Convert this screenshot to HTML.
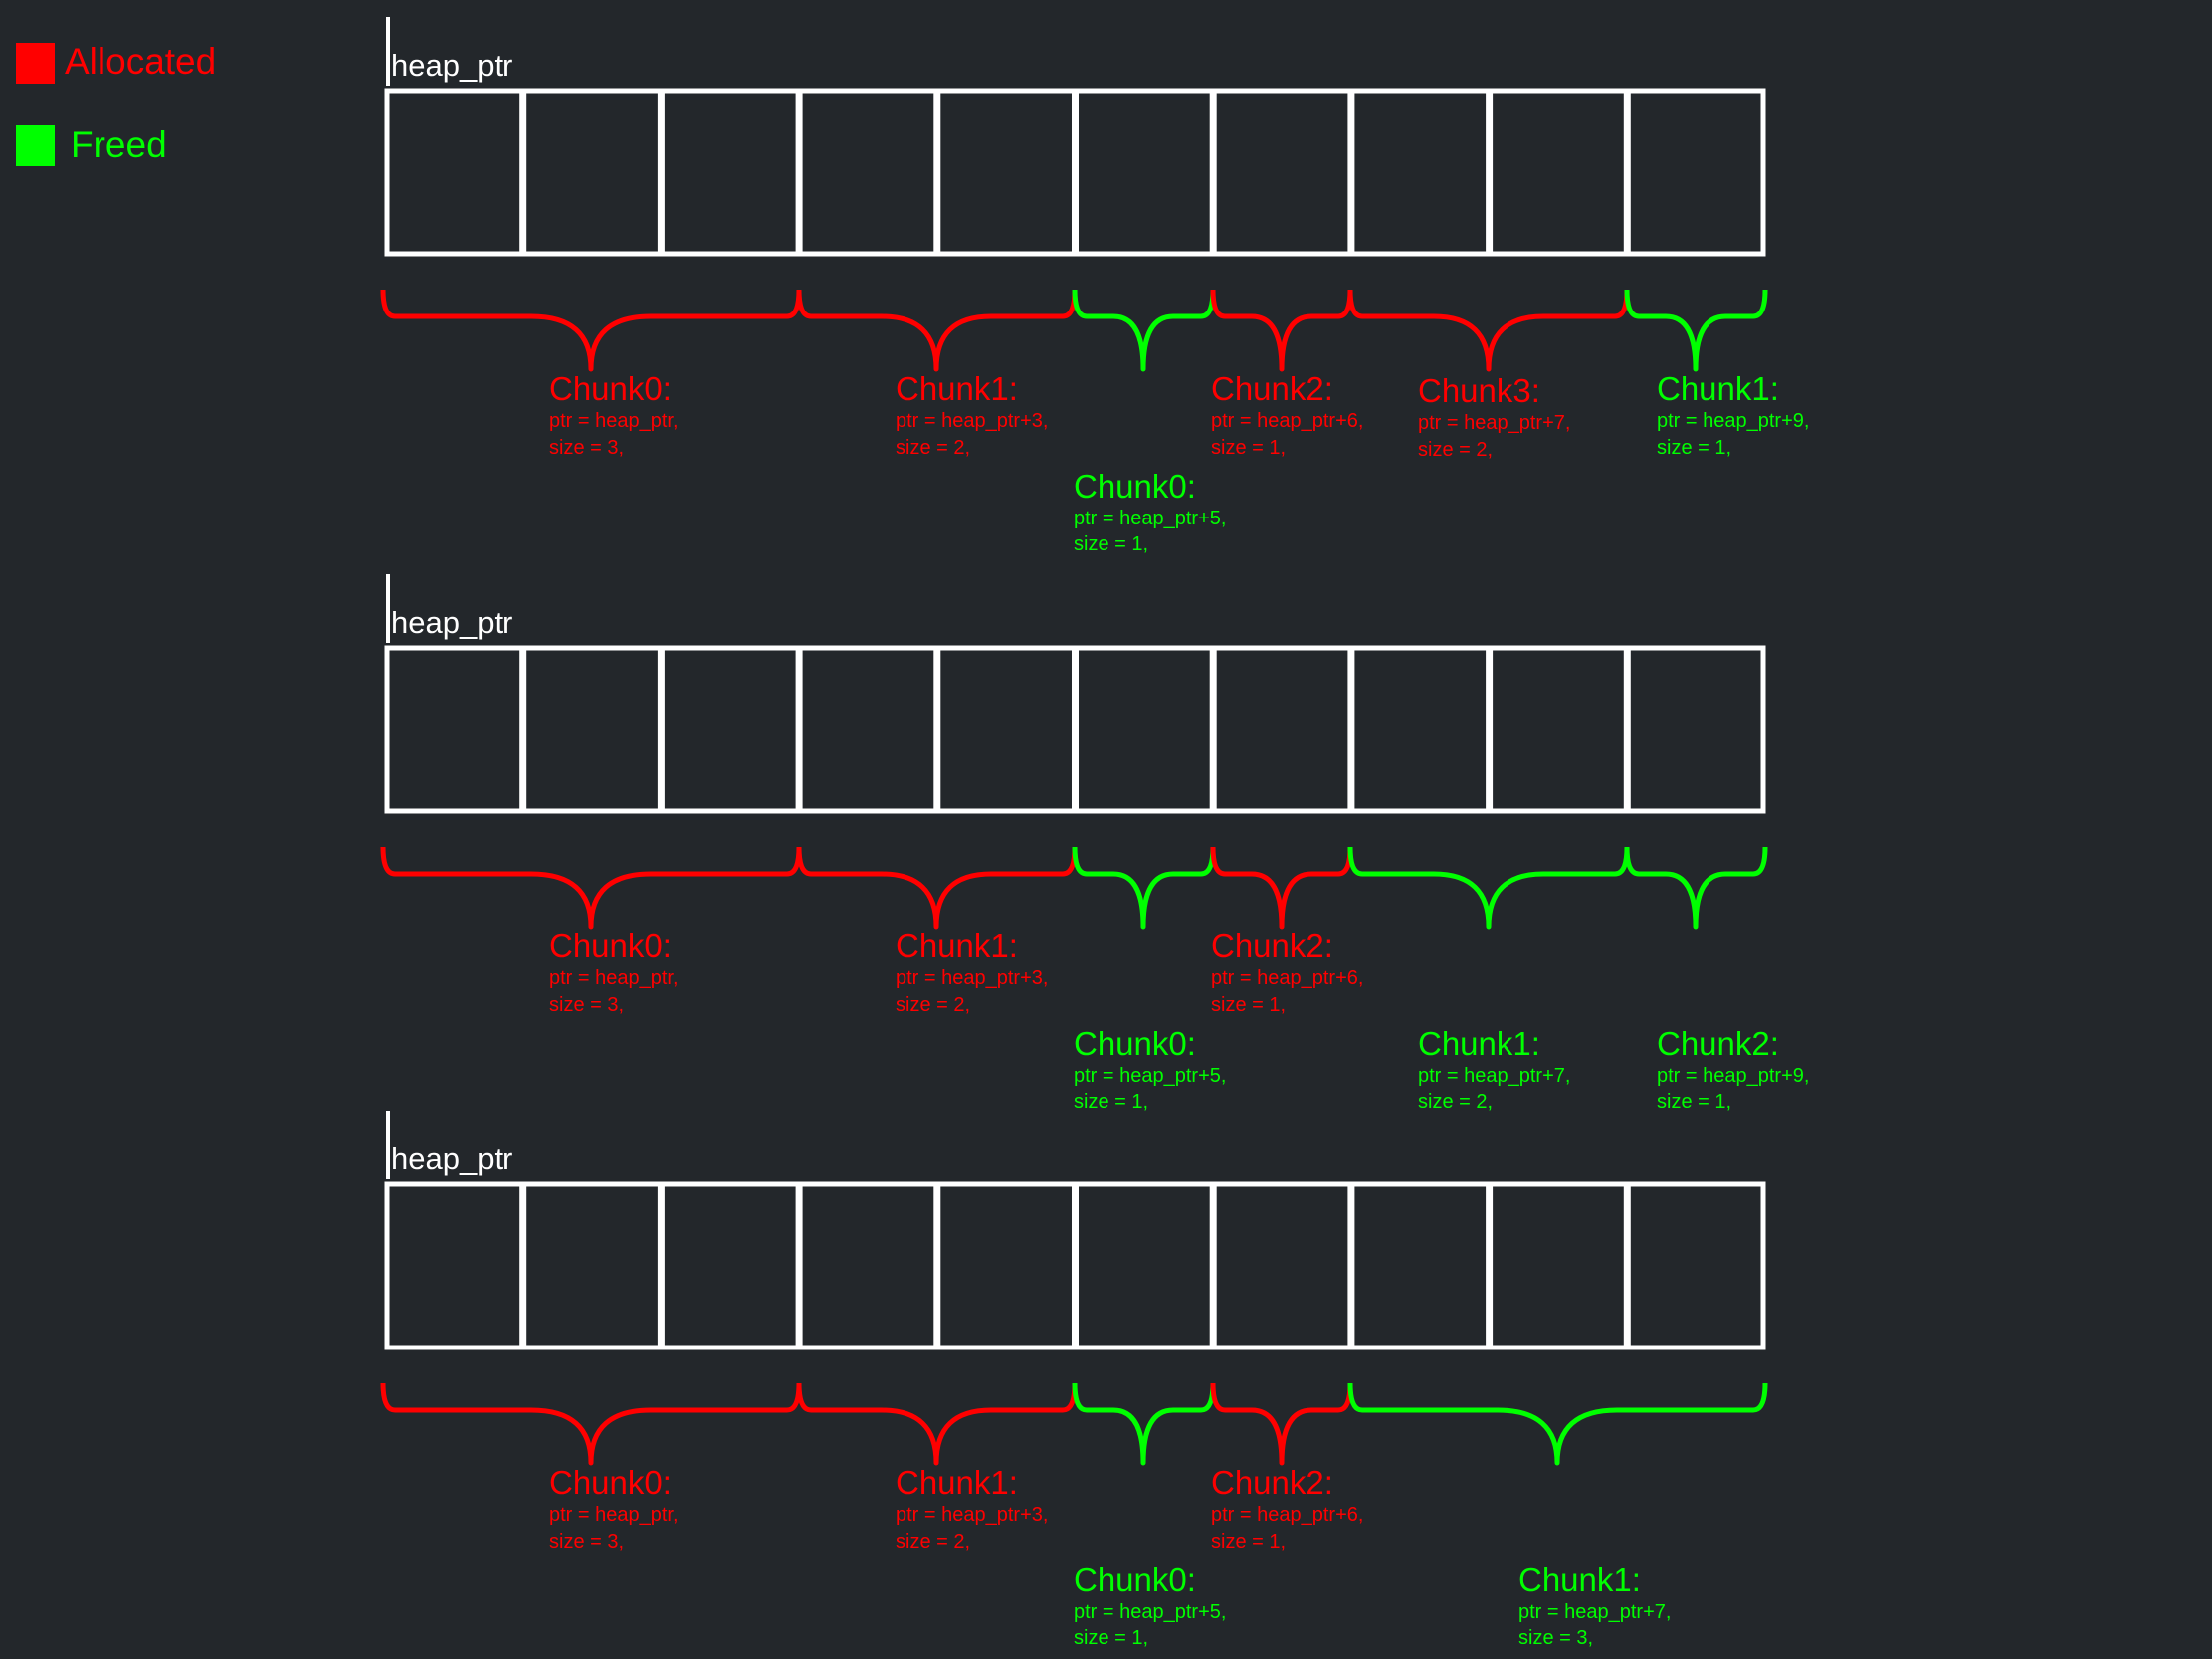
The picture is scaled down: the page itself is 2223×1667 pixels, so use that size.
<!DOCTYPE html>
<html><head><meta charset="utf-8"><style>
html,body{margin:0;padding:0;background:#23272b;}
svg{display:block}
text{font-family:"Liberation Sans","Noto Sans CJK JP",sans-serif;}
.t{font-size:33px}
.s{font-size:20px}
.r{fill:#ff0000}.g{fill:#00ff00}
.br{fill:none;stroke-width:5;stroke-linejoin:round}
.br.r{stroke:#ff0000;fill:none}.br.g{stroke:#00ff00;fill:none}
</style></head><body>
<svg width="2223" height="1667" viewBox="0 0 2223 1667" xmlns="http://www.w3.org/2000/svg">
<rect width="2223" height="1667" fill="#23272b"/>
<rect x="16" y="43" width="39" height="41" fill="#ff0000"/>
<text x="65" y="74" class="r" style="font-size:37px">Allocated</text>
<rect x="16" y="126" width="39" height="41" fill="#00ff00"/>
<text x="71" y="158" class="g" style="font-size:37px">Freed</text>

<defs>
<g id="mem">
<line x1="390" y1="17" x2="390" y2="86" stroke="#fff" stroke-width="4"/>
<text x="393" y="76" fill="#fff" style="font-size:31px">heap_ptr</text>
<rect x="389" y="91" width="1383" height="164" fill="none" stroke="#fff" stroke-width="5"/>
<g stroke="#fff" stroke-width="7">
<line x1="525.7" y1="91" x2="525.7" y2="255"/><line x1="664.4" y1="91" x2="664.4" y2="255"/>
<line x1="803.1" y1="91" x2="803.1" y2="255"/><line x1="941.8" y1="91" x2="941.8" y2="255"/>
<line x1="1080.5" y1="91" x2="1080.5" y2="255"/><line x1="1219.2" y1="91" x2="1219.2" y2="255"/>
<line x1="1357.9" y1="91" x2="1357.9" y2="255"/><line x1="1496.6" y1="91" x2="1496.6" y2="255"/>
<line x1="1635.3" y1="91" x2="1635.3" y2="255"/>
</g>
<path class="br r" d="M385 291 Q385 318 397 318 L534 318 Q594 318 594 371 Q594 318 654 318 L791 318 Q803 318 803 291"/>
<path class="br r" d="M803 291 Q803 318 815 318 L886 318 Q941 318 941 371 Q941 318 996 318 L1068 318 Q1080 318 1080 291"/>
<path class="br g" d="M1080 291 Q1080 318 1092 318 L1119 318 Q1149 318 1149 371 Q1149 318 1179 318 L1207 318 Q1219 318 1219 291"/>
<path class="br r" d="M1219 291 Q1219 318 1231 318 L1258 318 Q1288 318 1288 371 Q1288 318 1318 318 L1345 318 Q1357 318 1357 291"/>
<text x="552" y="402" class="t r">Chunk0:</text>
<text x="552" y="429" class="s r">ptr = heap_ptr,</text>
<text x="552" y="456" class="s r">size = 3,</text>
<text x="900" y="402" class="t r">Chunk1:</text>
<text x="900" y="429" class="s r">ptr = heap_ptr+3,</text>
<text x="900" y="456" class="s r">size = 2,</text>
<text x="1217" y="402" class="t r">Chunk2:</text>
<text x="1217" y="429" class="s r">ptr = heap_ptr+6,</text>
<text x="1217" y="456" class="s r">size = 1,</text>
<text x="1079" y="500" class="t g">Chunk0:</text>
<text x="1079" y="527" class="s g">ptr = heap_ptr+5,</text>
<text x="1079" y="553" class="s g">size = 1,</text>
</g>
</defs>

<use href="#mem"/>
<path class="br r" d="M1357 291 Q1357 318 1369 318 L1441 318 Q1496 318 1496 371 Q1496 318 1551 318 L1623 318 Q1635 318 1635 291"/>
<path class="br g" d="M1635 291 Q1635 318 1647 318 L1674 318 Q1704 318 1704 371 Q1704 318 1734 318 L1762 318 Q1774 318 1774 291"/>
<text x="1425" y="404" class="t r">Chunk3:</text>
<text x="1425" y="431" class="s r">ptr = heap_ptr+7,</text>
<text x="1425" y="458" class="s r">size = 2,</text>
<text x="1665" y="402" class="t g">Chunk1:</text>
<text x="1665" y="429" class="s g">ptr = heap_ptr+9,</text>
<text x="1665" y="456" class="s g">size = 1,</text>

<g transform="translate(0,560)">
<use href="#mem"/>
<path class="br g" d="M1357 291 Q1357 318 1369 318 L1441 318 Q1496 318 1496 371 Q1496 318 1551 318 L1623 318 Q1635 318 1635 291"/>
<path class="br g" d="M1635 291 Q1635 318 1647 318 L1674 318 Q1704 318 1704 371 Q1704 318 1734 318 L1762 318 Q1774 318 1774 291"/>
<text x="1425" y="500" class="t g">Chunk1:</text>
<text x="1425" y="527" class="s g">ptr = heap_ptr+7,</text>
<text x="1425" y="553" class="s g">size = 2,</text>
<text x="1665" y="500" class="t g">Chunk2:</text>
<text x="1665" y="527" class="s g">ptr = heap_ptr+9,</text>
<text x="1665" y="553" class="s g">size = 1,</text>
</g>

<g transform="translate(0,1099)">
<use href="#mem"/>
<path class="br g" d="M1357 291 Q1357 318 1369 318 L1505 318 Q1565 318 1565 371 Q1565 318 1625 318 L1762 318 Q1774 318 1774 291"/>
<text x="1526" y="500" class="t g">Chunk1:</text>
<text x="1526" y="527" class="s g">ptr = heap_ptr+7,</text>
<text x="1526" y="553" class="s g">size = 3,</text>
</g>
</svg>
</body></html>
